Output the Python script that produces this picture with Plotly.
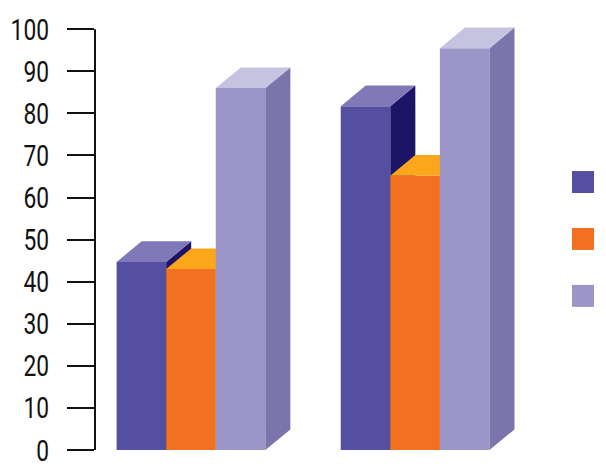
import plotly.graph_objects as go

group_positions = [0, 1]
series_names = ["Series 1", "Series 2", "Series 3"]
series_1 = [44.7, 81.7]
series_2 = [43.0, 65.2]
series_3 = [86.0, 95.5]
tick_values = [0, 10, 20, 30, 40, 50, 60, 70, 80, 90, 100]
tick_labels = ["0", "10", "20", "30", "40", "50", "60", "70", "80", "90", "100"]

front_colors = ["#544FA0", "#F37021", "#9C95C7"]
top_colors = ["#8079B8", "#FBA61B", "#C6C3E0"]
side_colors = ["#1C1464", "#E0601A", "#7B75AC"]

W, H = 606, 473
ML, MR, MT, MB = 95.3, 6, 24.79, 22.7
BAR_W = 0.2212
DX = 0.1116
DY = 4.9
X_RANGE = [-0.4283, 1.825]
Y_RANGE = [0, 101]
AXIS_TOP = 100

fig = go.Figure()
all_series = [series_1, series_2, series_3]
for i, (name, vals) in enumerate(zip(series_names, all_series)):
    suffix = "" if i == 0 else str(i + 1)
    xa, ya = "x" + suffix, "y" + suffix
    offset = (i - 1.5) * BAR_W
    fig.add_trace(go.Bar(
        x=group_positions, y=vals, width=BAR_W, offset=offset, name=name,
        marker=dict(color=front_colors[i], line=dict(width=0)),
        xaxis=xa, yaxis=ya, showlegend=False))
    for pos, v in zip(group_positions, vals):
        l = pos + offset
        r = l + BAR_W
        fig.add_trace(go.Scatter(
            x=[r, r + DX, r + DX, r, r], y=[0, DY, v + DY, v, 0],
            mode="lines", fill="toself", fillcolor=side_colors[i],
            line=dict(width=0), cliponaxis=False, hoverinfo="skip",
            xaxis=xa, yaxis=ya, showlegend=False))
        fig.add_trace(go.Scatter(
            x=[l, l + DX, r + DX, r, l], y=[v, v + DY, v + DY, v, v],
            mode="lines", fill="toself", fillcolor=top_colors[i],
            line=dict(width=0), cliponaxis=False, hoverinfo="skip",
            xaxis=xa, yaxis=ya, showlegend=False))

hidden_x = dict(range=X_RANGE, visible=False, fixedrange=True)
layout = dict(
    width=W, height=H,
    margin=dict(l=ML, r=MR, t=MT, b=MB, pad=0, autoexpand=False),
    paper_bgcolor="white", plot_bgcolor="rgba(0,0,0,0)",
    showlegend=False,
    xaxis=hidden_x,
    yaxis=dict(
        range=Y_RANGE, tickmode="array", tickvals=tick_values, ticktext=tick_labels,
        ticks="outside", ticklen=27, tickwidth=2, tickcolor="#111111",
        showline=False,
        showgrid=False, zeroline=False, ticklabelstandoff=12, automargin=False,
        tickfont=dict(family="Roboto", size=30, color="#111111"),
    ),
)
for i in (2, 3):
    layout[f"xaxis{i}"] = dict(hidden_x, overlaying="x")
    layout[f"yaxis{i}"] = dict(range=Y_RANGE, visible=False, overlaying="y")

plot_w = W - ML - MR
plot_h = H - MT - MB
legend_tops = [171, 228, 285]
shapes = [dict(type="line", xref="paper", yref="y", x0=0, x1=0,
               y0=Y_RANGE[0], y1=AXIS_TOP, line=dict(color="#111111", width=2))]
for c, t in zip(front_colors, legend_tops):
    shapes.append(dict(
        type="rect", xref="paper", yref="paper",
        x0=(572 - ML) / plot_w, x1=(594 - ML) / plot_w,
        y0=(H - MB - t - 22) / plot_h, y1=(H - MB - t) / plot_h,
        fillcolor=c, line=dict(width=0)))
layout["shapes"] = shapes
fig.update_layout(**layout)

NARROW_JS = """
document.body.style.margin = '0';
document.querySelectorAll('.ytick text').forEach(function (t) {
  t.setAttribute('lengthAdjust', 'spacingAndGlyphs');
  t.setAttribute('textLength', String(t.textContent.length * 12.8));
});
"""
fig.write_html("out.html", config=dict(displayModeBar=False), post_script=NARROW_JS)
